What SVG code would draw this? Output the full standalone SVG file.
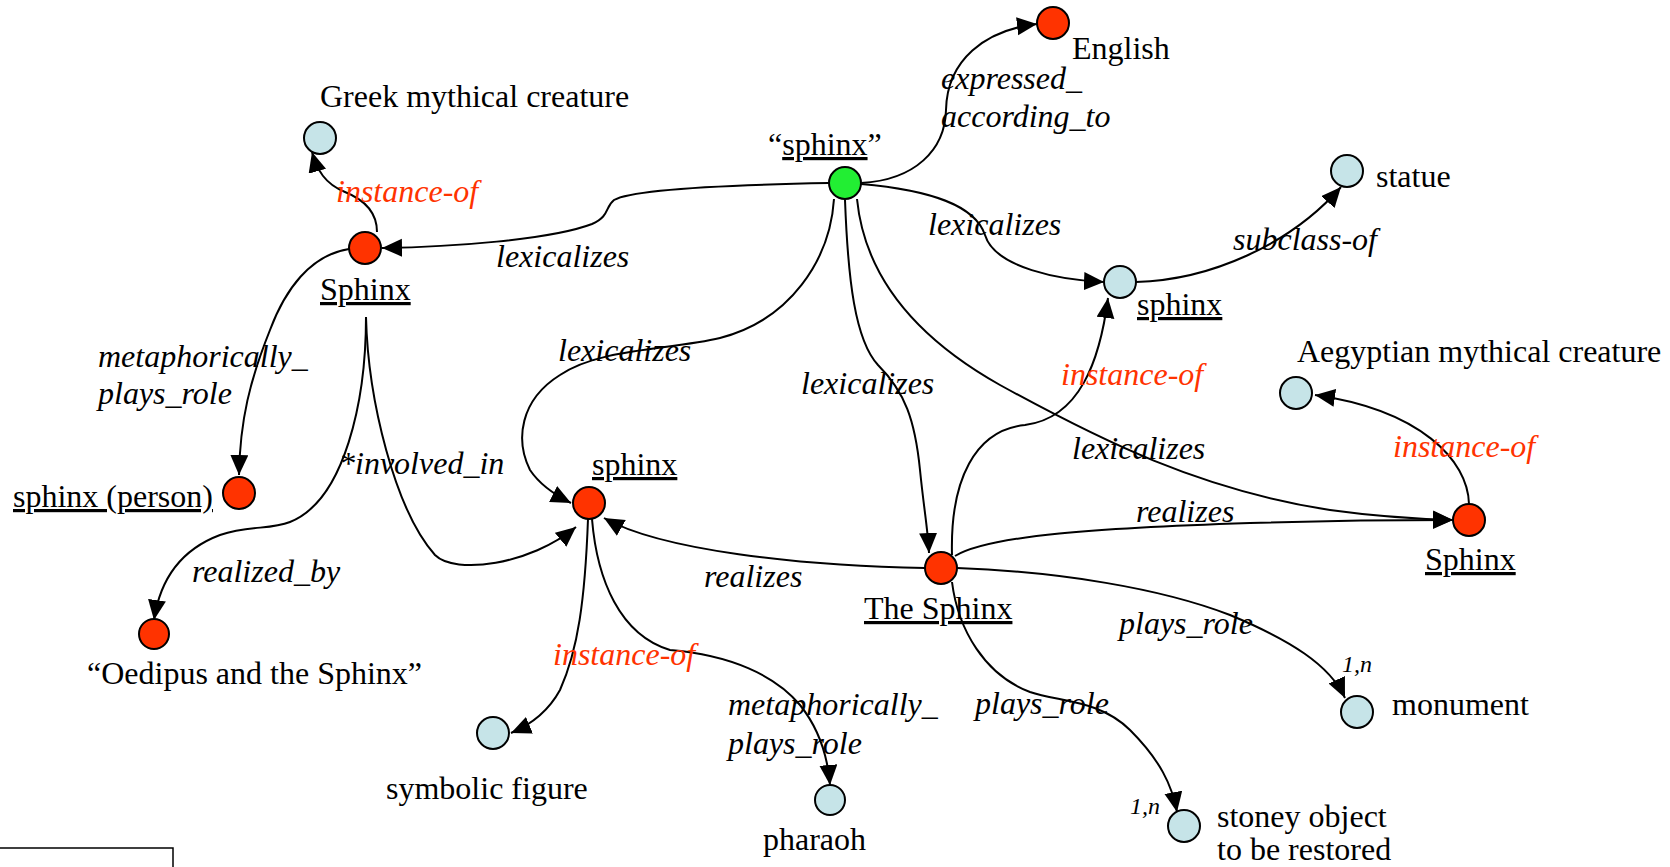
<svg xmlns="http://www.w3.org/2000/svg" width="1670" height="867" viewBox="0 0 1670 867">
  <style>
    .node { stroke: #000; stroke-width: 2; }
    .concept { fill: #C6E4E8; }
    .instance { fill: #FF3300; }
    .word { fill: #22EE33; }
    .edge { fill: none; stroke: #000; stroke-width: 2; }
    .arrow { marker-end: url(#head); }
    text { font-family: "Liberation Serif", "Times New Roman", serif; font-size: 32px; fill: #000; }
    .rel { font-style: italic; }
    .inst { font-style: italic; fill: #FF3300; }
    .card { font-style: italic; font-size: 24px; }
    .u { text-decoration: underline; }
  </style>
  <defs>
    <marker id="head" markerUnits="userSpaceOnUse" markerWidth="22" markerHeight="20" refX="20" refY="9" orient="auto">
      <path d="M0,0 L20,9 L0,18 Z" fill="#000"/>
    </marker>
  </defs>

  <rect width="1670" height="867" fill="#fff"/>

  <!-- connectors -->
  <g id="connectors">
    <path class="edge arrow" d="M 861 183 C 915 180, 945 150, 946 110 C 947 60, 985 30, 1037 24"/>
    <path class="edge arrow" d="M 829 183 C 720 185, 630 190, 614 200 C 605 207, 610 216, 592 224 C 550 240, 450 247, 382 248"/>
    <path class="edge arrow" d="M 861 184 C 930 190, 975 205, 985 235 C 995 268, 1060 280, 1104 282"/>
    <path class="edge arrow" d="M 834 199 C 830 260, 790 320, 720 338 C 670 350, 600 348, 560 375 C 520 400, 515 440, 530 470 C 540 485, 555 495, 571 503"/>
    <path class="edge arrow" d="M 845 200 C 848 280, 855 340, 878 365 C 905 392, 915 420, 920 470 C 924 510, 928 530, 929 553"/>
    <path class="edge arrow" d="M 857 199 C 865 280, 920 340, 1000 385 C 1100 440, 1200 490, 1330 510 C 1380 517, 1420 519, 1453 520"/>
    <path class="edge arrow" d="M 1136 282 C 1210 280, 1290 245, 1341 187"/>
    <path class="edge arrow" d="M 377 232 C 377 212, 365 200, 345 192 C 325 184, 317 170, 312 152"/>
    <path class="edge arrow" d="M 349 249 C 310 255, 285 290, 270 330 C 250 380, 240 420, 239 475"/>
    <path class="edge arrow" d="M 366 317 C 366 400, 345 500, 290 522 C 270 530, 250 525, 220 535 C 180 550, 160 580, 154 620"/>
    <path class="edge arrow" d="M 366 317 C 368 400, 395 510, 435 555 C 455 575, 530 565, 576 527"/>
    <path class="edge arrow" d="M 925 568 C 800 566, 660 550, 604 518"/>
    <path class="edge arrow" d="M 952 555 C 950 480, 975 430, 1025 425 C 1080 418, 1100 360, 1108 298"/>
    <path class="edge arrow" d="M 955 556 C 990 535, 1100 528, 1250 523 C 1350 520, 1400 520, 1453 520"/>
    <path class="edge arrow" d="M 1469 504 C 1468 460, 1420 410, 1315 395"/>
    <path class="edge arrow" d="M 588 519 C 585 600, 578 650, 560 690 C 548 712, 530 725, 511 733"/>
    <path class="edge arrow" d="M 592 519 C 597 580, 620 635, 670 650 C 730 655, 775 675, 800 705 C 820 730, 828 760, 830 785"/>
    <path class="edge arrow" d="M 957 568 C 1060 572, 1160 588, 1230 615 C 1290 640, 1330 665, 1345 698"/>
    <path class="edge arrow" d="M 952 582 C 958 630, 985 675, 1030 692 C 1060 702, 1100 700, 1130 730 C 1160 760, 1172 785, 1177 812"/>

    <!-- relation labels -->
    <text class="rel" x="941" y="89">expressed_</text>
    <text class="rel" x="941" y="127">according_to</text>
    <text class="inst" x="336" y="202">instance-of</text>
    <text class="rel" x="496" y="267">lexicalizes</text>
    <text class="rel" x="928" y="235">lexicalizes</text>
    <text class="rel" x="1233" y="250">subclass-of</text>
    <text class="rel" x="98" y="367">metaphorically_</text>
    <text class="rel" x="98" y="404">plays_role</text>
    <text class="rel" x="558" y="361">lexicalizes</text>
    <text class="rel" x="801" y="394">lexicalizes</text>
    <text class="inst" x="1061" y="385">instance-of</text>
    <text class="rel" x="339" y="474">*involved_in</text>
    <text class="rel" x="1072" y="459">lexicalizes</text>
    <text class="inst" x="1393" y="457">instance-of</text>
    <text class="rel" x="1136" y="522">realizes</text>
    <text class="rel" x="192" y="582">realized_by</text>
    <text class="rel" x="704" y="587">realizes</text>
    <text class="rel" x="1119" y="634">plays_role</text>
    <text class="inst" x="553" y="665">instance-of</text>
    <text class="rel" x="728" y="715">metaphorically_</text>
    <text class="rel" x="728" y="754">plays_role</text>
    <text class="rel" x="975" y="714">plays_role</text>
    <text class="card" x="1342" y="672">1,n</text>
    <text class="card" x="1130" y="814">1,n</text>
  </g>

  <!-- nodes -->
  <g id="word-sphinx">
    <circle class="node word" cx="845" cy="183" r="16"/>
    <text x="768" y="155">“<tspan class="u">sphinx</tspan>”</text>
  </g>
  <g id="english">
    <circle class="node instance" cx="1053" cy="23" r="16"/>
    <text x="1072" y="59">English</text>
  </g>
  <g id="greek-creature">
    <circle class="node concept" cx="320" cy="138" r="16"/>
    <text x="320" y="107">Greek mythical creature</text>
  </g>
  <g id="greek-sphinx">
    <circle class="node instance" cx="365" cy="248" r="16"/>
    <text class="u" x="320" y="300">Sphinx</text>
  </g>
  <g id="sphinx-concept">
    <circle class="node concept" cx="1120" cy="282" r="16"/>
    <text class="u" x="1137" y="315">sphinx</text>
  </g>
  <g id="statue">
    <circle class="node concept" cx="1347" cy="171" r="16"/>
    <text x="1376" y="187">statue</text>
  </g>
  <g id="egyptian-creature">
    <circle class="node concept" cx="1296" cy="393" r="16"/>
    <text x="1297" y="362">Aegyptian mythical creature</text>
  </g>
  <g id="sphinx-person">
    <circle class="node instance" cx="239" cy="493" r="16"/>
    <text class="u" x="13" y="507">sphinx (person)</text>
  </g>
  <g id="sphinx-symbol">
    <circle class="node instance" cx="589" cy="503" r="16"/>
    <text class="u" x="592" y="475">sphinx</text>
  </g>
  <g id="the-sphinx">
    <circle class="node instance" cx="941" cy="568" r="16"/>
    <text class="u" x="864" y="619">The Sphinx</text>
  </g>
  <g id="egyptian-sphinx">
    <circle class="node instance" cx="1469" cy="520" r="16"/>
    <text class="u" x="1425" y="570">Sphinx</text>
  </g>
  <g id="oedipus">
    <circle class="node instance" cx="154" cy="634" r="15"/>
    <text x="87" y="684">“Oedipus and the Sphinx”</text>
  </g>
  <g id="symbolic-figure">
    <circle class="node concept" cx="493" cy="733" r="16"/>
    <text x="386" y="799">symbolic figure</text>
  </g>
  <g id="pharaoh">
    <circle class="node concept" cx="830" cy="800" r="15"/>
    <text x="763" y="850">pharaoh</text>
  </g>
  <g id="monument">
    <circle class="node concept" cx="1357" cy="712" r="16"/>
    <text x="1392" y="715">monument</text>
  </g>
  <g id="stoney-object">
    <circle class="node concept" cx="1184" cy="826" r="16"/>
    <text x="1217" y="827">stoney object</text>
    <text x="1217" y="860">to be restored</text>
  </g>

  <!-- box at lower left edge -->
  <path d="M 0 848 H 173 V 867" fill="none" stroke="#000" stroke-width="1.5"/>
</svg>
